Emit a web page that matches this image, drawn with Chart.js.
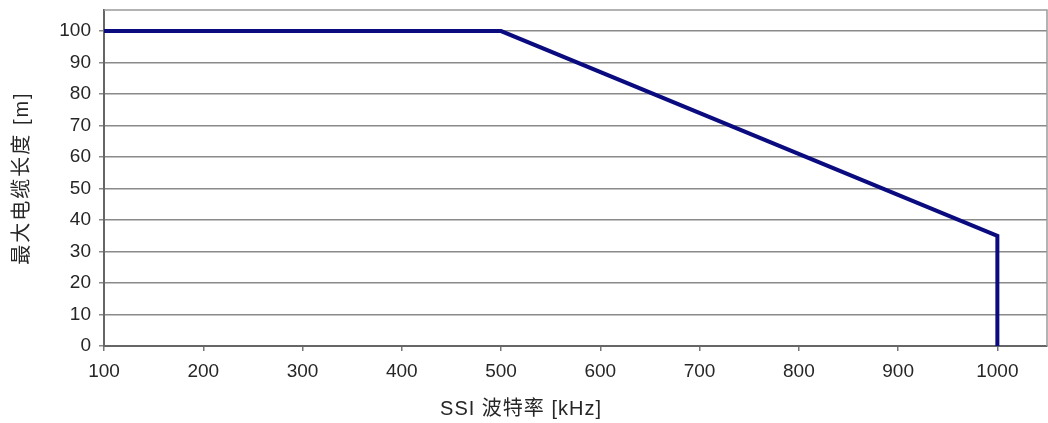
<!DOCTYPE html>
<html>
<head>
<meta charset="utf-8">
<script src="https://cdn.jsdelivr.net/npm/chart.js@4/dist/chart.umd.min.js"></script>
<style>
html,body{margin:0;padding:0;background:#fff;}
#wrap{width:1048px;height:423px;position:relative;}
</style>
</head>
<body>
<div id="wrap"><canvas id="c" width="1048" height="423"></canvas></div>
<script>
// Data
const baudRates = [100, 500, 1000, 1000];      // SSI 波特率 [kHz]
const cableLengths = [100, 100, 35, 0];        // 最大电缆长度 [m]
const xTicks = [100, 200, 300, 400, 500, 600, 700, 800, 900, 1000];
const yTicks = [0, 10, 20, 30, 40, 50, 60, 70, 80, 90, 100];
const xTitle = 'SSI 波特率 [kHz]';
const yTitle = '最大电缆长度 [m]';

const FONT = "'Liberation Sans', Arial, 'Noto Sans CJK SC', sans-serif";
const TEXT = '#262626';

const frame = {
  id: 'frame',
  afterDraw(chart) {
    const {ctx, chartArea: a} = chart;
    ctx.save();
    ctx.strokeStyle = '#9a9a9a';
    ctx.lineWidth = 1.5;
    ctx.beginPath();
    ctx.moveTo(a.left, a.top); ctx.lineTo(a.right, a.top); ctx.lineTo(a.right, a.bottom);
    ctx.stroke();
    ctx.fillStyle = TEXT;
    ctx.font = "20px " + FONT;
    ctx.textAlign = 'center';
    ctx.textBaseline = 'middle';
    if ('letterSpacing' in ctx) ctx.letterSpacing = '1px';
    ctx.fillText(xTitle, 521, 409);
    ctx.translate(22, (a.top + a.bottom) / 2);
    ctx.rotate(-Math.PI / 2);
    if ('letterSpacing' in ctx) ctx.letterSpacing = '2px';
    ctx.fillText(yTitle, 0, 0);
    ctx.restore();
  }
};

new Chart(document.getElementById('c'), {
  type: 'line',
  data: {
    datasets: [{
      data: baudRates.map((x, i) => ({x, y: cableLengths[i]})),
      borderColor: '#0b0b80',
      borderWidth: 4,
      pointRadius: 0,
      tension: 0,
      fill: false,
      borderJoinStyle: 'miter'
    }]
  },
  options: {
    responsive: false,
    animation: false,
    layout: {padding: {left: 0, top: 10, right: 1, bottom: 0}},
    plugins: {legend: {display: false}, tooltip: {enabled: false}},
    scales: {
      x: {
        type: 'linear',
        min: 100, max: 1050,
        afterBuildTicks: s => { s.ticks = xTicks.map(v => ({value: v})); },
        afterFit: s => { s.height = 77; },
        ticks: {color: TEXT, font: {family: FONT, size: 19}, padding: 9, maxRotation: 0, autoSkip: false,
                callback: v => String(v)},
        grid: {drawOnChartArea: false, drawTicks: true, tickLength: 5, color: '#777', lineWidth: 1.5},
        border: {color: '#666', width: 2}
      },
      y: {
        min: 0, max: 106.7,
        afterBuildTicks: s => { s.ticks = yTicks.map(v => ({value: v})); },
        afterFit: s => { s.width = 104; s.paddingTop = 0; s.paddingBottom = 0; },
        ticks: {color: TEXT, font: {family: FONT, size: 19, lineHeight: 0.5}, padding: 8, callback: v => String(v)},
        grid: {color: '#8a8a8a', lineWidth: 1.5, tickLength: 5},
        border: {color: '#666', width: 2}
      }
    }
  },
  plugins: [frame]
});
</script>
</body>
</html>
